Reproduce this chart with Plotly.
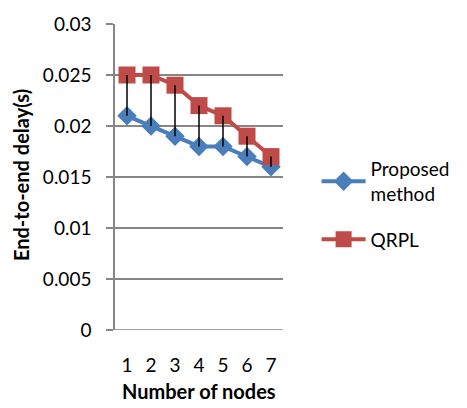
import plotly.graph_objects as go

nodes = [1, 2, 3, 4, 5, 6, 7]
proposed = [0.021, 0.020, 0.019, 0.018, 0.018, 0.017, 0.016]
qrpl = [0.025, 0.025, 0.024, 0.022, 0.021, 0.019, 0.017]
y_ticks = [0, 0.005, 0.01, 0.015, 0.02, 0.025, 0.03]
y_tick_text = ["0", "0.005", "0.01", "0.015", "0.02", "0.025", "0.03"]

FONT = "Lato, 'Open Sans', sans-serif"
BLUE = "#4A7EBB"
RED = "#BE4B48"
GRID = "#868686"

fig = go.Figure()

fig.add_trace(go.Scatter(
    x=nodes, y=proposed, name="Proposed<br>method", mode="lines+markers",
    legendgroup="proposed",
    line=dict(color=BLUE, width=4),
    marker=dict(symbol="diamond", size=15, color=BLUE),
))
fig.add_trace(go.Scatter(
    x=nodes, y=qrpl, name="QRPL", mode="lines+markers",
    legendgroup="qrpl",
    line=dict(color=RED, width=4),
    marker=dict(symbol="square", size=17, color=RED),
))

# high-low lines joining the two series at each node count
hl_x, hl_y = [], []
for n, lo, hi in zip(nodes, proposed, qrpl):
    hl_x += [n, n, None]
    hl_y += [lo, hi, None]
fig.add_trace(go.Scatter(
    x=hl_x, y=hl_y, mode="lines", showlegend=False,
    line=dict(color="black", width=1.5), hoverinfo="skip",
))

fig.update_layout(
    width=467, height=408,
    margin=dict(l=115, r=183, t=16, b=78),
    paper_bgcolor="white", plot_bgcolor="white",
    font=dict(family=FONT, size=19, color="black"),
    showlegend=True,
    legend=dict(
        x=1.2, xanchor="left", xref="paper", y=0.41, yanchor="middle",
        font=dict(family=FONT, size=19, color="black"),
        tracegroupgap=18, itemwidth=44, bgcolor="rgba(0,0,0,0)",
    ),
    xaxis=dict(
        range=[0.5, 7.5], tickmode="array", tickvals=nodes,
        ticktext=[str(n) for n in nodes],
        showgrid=False, zeroline=False, showline=False,
        ticks="", ticklabelstandoff=22,
        tickfont=dict(family=FONT, size=19),
    ),
    yaxis=dict(
        range=[0, 0.03], tickmode="array", tickvals=y_ticks, ticktext=y_tick_text,
        showgrid=True, gridcolor=GRID, gridwidth=1.5, zeroline=False,
        showline=True, linecolor=GRID, linewidth=1.5,
        ticks="outside", ticklen=7, tickcolor=GRID, tickwidth=1.5,
        ticklabelstandoff=11,
        tickfont=dict(family=FONT, size=19),
    ),
    annotations=[
        dict(text="<b>Number of nodes</b>", xref="paper", yref="paper",
             x=0.5, y=-0.2, xanchor="center", yanchor="middle", showarrow=False,
             font=dict(family=FONT, size=20)),
        dict(text="<b>End-to-end delay(s)</b>", xref="paper", yref="paper",
             x=-0.556, y=0.505, xanchor="center", yanchor="middle", textangle=-90,
             showarrow=False, font=dict(family=FONT, size=20)),
    ],
)

# bottom axis line extended to the left like the gridlines' tick stubs
fig.add_shape(type="line", xref="paper", yref="y", x0=-0.04, x1=1.0, y0=0, y1=0,
              line=dict(color=GRID, width=1.5), layer="below")

fig.write_html("out.html")
